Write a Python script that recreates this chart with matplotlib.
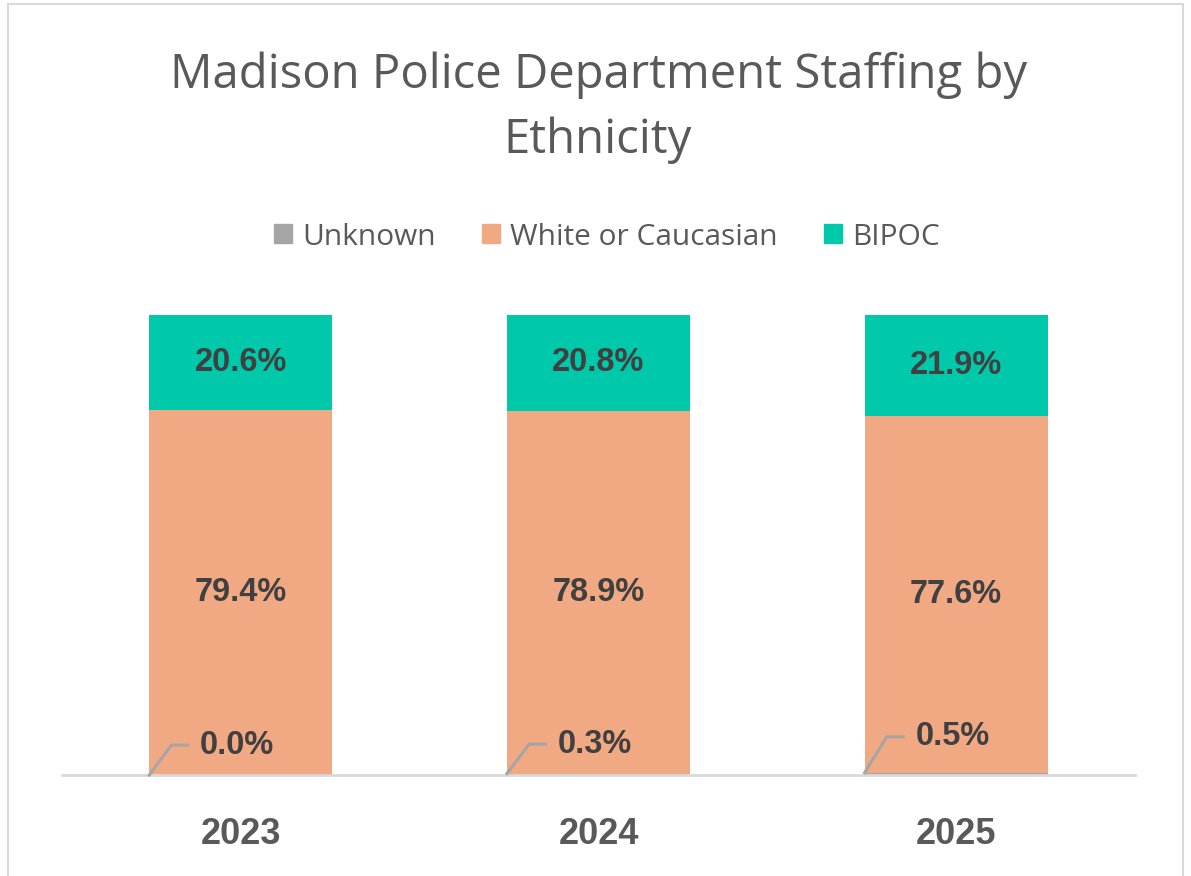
import matplotlib
matplotlib.use("Agg")
import matplotlib.pyplot as plt
from matplotlib.patches import Rectangle
from matplotlib.lines import Line2D
import numpy as np

years = ["2023", "2024", "2025"]
unknown = [0.0, 0.3, 0.5]
white = [79.4, 78.9, 77.6]
bipoc = [20.6, 20.8, 21.9]
series_names = ["Unknown", "White or Caucasian", "BIPOC"]
colors = ["#A5A5A5", "#F1A983", "#00C8AB"]
title = "Madison Police Department Staffing by\nEthnicity"

W, H = 1191, 876
fig = plt.figure(figsize=(W / 100, H / 100), dpi=100)
fig.patch.set_facecolor("white")

# chart border
fig.patches.append(Rectangle((8 / W, -0.01), (1183 - 8) / W, (H - 4) / H + 0.01,
                             transform=fig.transFigure, fill=False,
                             edgecolor="#D9D9D9", linewidth=1.5))

ax = fig.add_axes([62 / W, 1 - 775 / H, (1135 - 62) / W, (775 - 315) / H])
x = np.arange(len(years))
w = 0.512
bottoms = np.zeros(len(years))
for vals, col, name in zip([unknown, white, bipoc], colors, series_names):
    ax.bar(x, vals, w, bottom=bottoms, color=col, label=name, zorder=2)
    bottoms = bottoms + np.array(vals)

ax.set_xlim(-0.5, 2.5)
ax.set_ylim(0, 100)
for s in ["top", "right", "left"]:
    ax.spines[s].set_visible(False)
ax.spines["bottom"].set_color("#D9D9D9")
ax.spines["bottom"].set_linewidth(2)
ax.spines["bottom"].set_zorder(3)
ax.set_yticks([])
ax.set_xticks(x)
ax.set_xticklabels(years, fontsize=26, fontweight="bold", color="#595959",
                   family="Liberation Sans")
ax.tick_params(axis="x", length=0, pad=30)

lab_kw = dict(ha="center", va="center", fontsize=23.5, fontweight="bold",
              color="#404040", family="Liberation Sans", zorder=4)
for i in range(len(years)):
    ax.text(x[i], unknown[i] + white[i] / 2, f"{white[i]:.1f}%", **lab_kw)
    ax.text(x[i], unknown[i] + white[i] + bipoc[i] / 2, f"{bipoc[i]:.1f}%", **lab_kw)

# unknown labels with leader lines
text_y = [6.5, 6.7, 8.3]
for i in range(len(years)):
    left = x[i] - w / 2
    ty = text_y[i]
    ax.add_line(Line2D([left, left + 0.062, left + 0.108],
                       [unknown[i], ty, ty], color="#A5A5A5", lw=2.2, zorder=4,
                       clip_on=False))
    ax.text(x[i] - 0.01, ty, f"{unknown[i]:.1f}%", **lab_kw)

fig.text(598 / W, 1 - 108 / H, title, ha="center", va="center", fontsize=34,
         color="#595959", family="Open Sans", linespacing=1.48)

handles = [Rectangle((0, 0), 1, 1, color=c) for c in colors]
fig.legend(handles, series_names, loc="center", bbox_to_anchor=(607 / W, 1 - 237 / H),
           ncol=3, frameon=False, handlelength=0.6, handleheight=0.6,
           handletextpad=0.35, columnspacing=1.55,
           prop={"family": "Open Sans", "size": 21.5})
for t in fig.legends[0].get_texts():
    t.set_color("#595959")

fig.savefig("out.png", dpi=100, facecolor="white")
